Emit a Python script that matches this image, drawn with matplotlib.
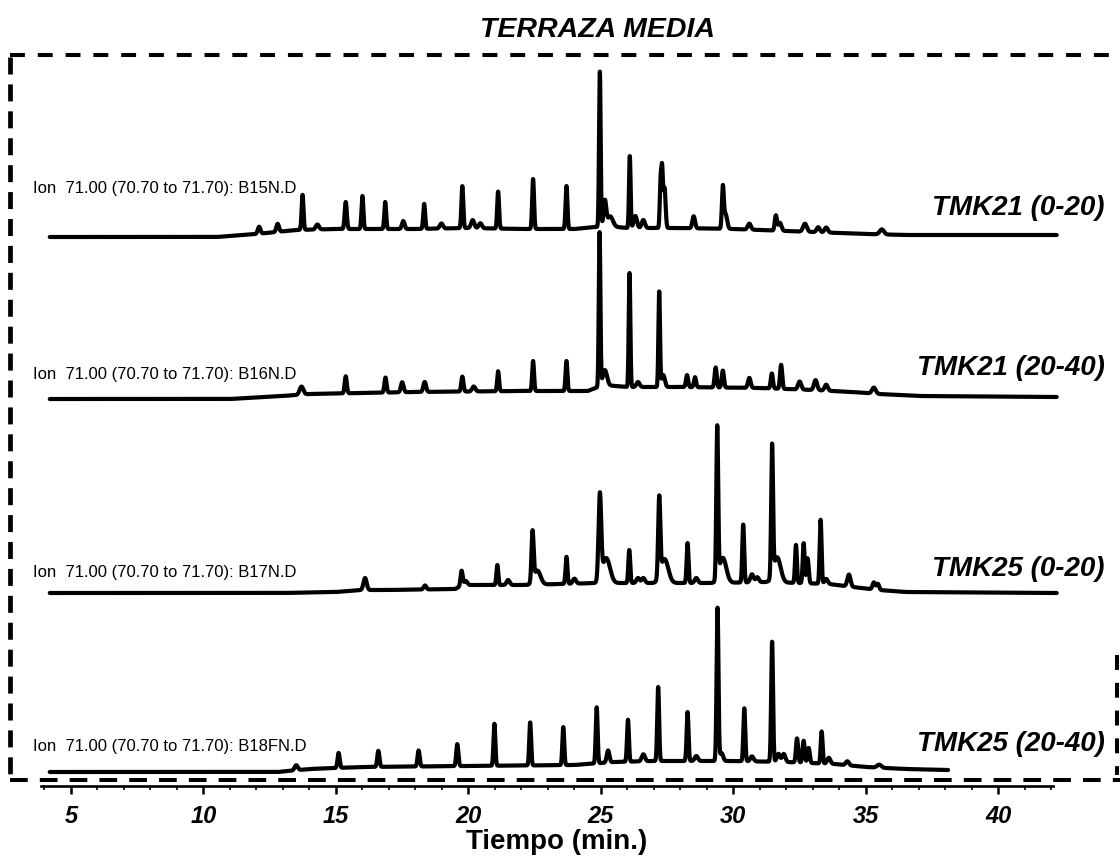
import numpy as np
import matplotlib
matplotlib.use("Agg")
import matplotlib.pyplot as plt
from matplotlib.lines import Line2D

# ---------------- data ----------------
title = "TERRAZA MEDIA"
xlabel = "Tiempo (min.)"
xticks = [5, 10, 15, 20, 25, 30, 35, 40]

sample_names = ["TMK21 (0-20)", "TMK21 (20-40)", "TMK25 (0-20)", "TMK25 (20-40)"]
file_labels = ["Ion  71.00 (70.70 to 71.70): B15N.D",
               "Ion  71.00 (70.70 to 71.70): B16N.D",
               "Ion  71.00 (70.70 to 71.70): B17N.D",
               "Ion  71.00 (70.70 to 71.70): B18FN.D"]
run_start = [4.2, 4.2, 4.2, 4.2]
run_end = [42.2, 42.2, 42.2, 38.1]

# baseline drift knots (time, abundance)
base1_t = [4.2, 10.5, 12.0, 13.5, 15.0, 18.0, 20.0, 22.0, 24.0, 25.2, 26.0, 28.0, 30.0, 31.0, 33.0, 35.0, 36.5, 42.2]
base1_v = [0, 0, 3, 7, 8, 8, 9, 8, 8, 11, 9, 9, 8, 7, 5, 3, 2, 2]
base2_t = [4.2, 11.0, 13.0, 14.0, 18.0, 22.0, 24.5, 25.1, 26.0, 28.0, 31.0, 33.0, 34.5, 35.5, 37.0, 42.2]
base2_v = [0, 0, 3, 5, 7, 8, 8, 14, 12, 12, 11, 9, 7, 5, 3, 2]
base3_t = [4.2, 13.0, 15.0, 16.0, 17.0, 19.5, 19.8, 22.0, 24.9, 26.0, 29.3, 31.3, 33.6, 34.5, 35.5, 36.5, 42.2]
base3_v = [0, 0, 1, 3, 3, 4, 8, 8, 10, 10, 10, 11, 9, 6, 3, 1, 0]
base4_t = [4.2, 12.8, 14.0, 16.0, 20.0, 24.0, 25.5, 27.0, 30.0, 32.0, 33.8, 35.0, 36.5, 38.1]
base4_v = [0, 0, 3, 5, 6, 7, 10, 11, 11, 10, 8, 5, 3, 2]

# peaks: retention time (min), height (abundance), width (min)
peaks1_t = [12.1, 12.8, 13.74, 14.3, 15.37, 16.0, 16.86, 17.54, 18.33, 18.98, 19.77, 20.16, 20.45, 21.12,
            22.44, 23.7, 24.96, 25.15, 25.35, 26.09, 26.3, 26.6, 27.25, 27.31, 27.4, 28.5, 29.6, 29.7,
            30.6, 31.6, 31.75, 32.7, 33.2, 33.5, 35.6]
peaks1_h = [7, 8, 35, 5, 27, 33, 27, 8, 25, 5, 42, 8, 5, 37,
            50, 43, 155, 25, 10, 72, 12, 8, 45, 55, 40, 12, 40, 15,
            6, 15, 8, 8, 5, 5, 5]
peaks1_w = [0.05, 0.05, 0.035, 0.06, 0.04, 0.035, 0.035, 0.05, 0.035, 0.06, 0.035, 0.06, 0.06, 0.035,
            0.035, 0.035, 0.03, 0.05, 0.1, 0.03, 0.06, 0.06, 0.03, 0.03, 0.04, 0.05, 0.035, 0.06,
            0.06, 0.04, 0.06, 0.07, 0.06, 0.06, 0.08]

peaks2_t = [13.7, 15.37, 16.87, 17.5, 18.35, 19.77, 20.2, 21.12, 22.44, 23.7, 24.95, 25.15, 26.08, 26.4,
            27.2, 27.35, 28.25, 28.55, 29.33, 29.6, 30.6, 31.45, 31.8, 32.5, 33.1, 33.5, 35.3]
peaks2_h = [8, 17, 15, 10, 10, 15, 5, 20, 30, 30, 154, 15, 114, 5,
            95, 12, 12, 10, 20, 17, 10, 15, 24, 8, 10, 6, 6]
peaks2_w = [0.07, 0.04, 0.04, 0.05, 0.05, 0.04, 0.06, 0.035, 0.035, 0.035, 0.03, 0.08, 0.03, 0.06,
            0.03, 0.06, 0.04, 0.04, 0.04, 0.04, 0.05, 0.04, 0.04, 0.06, 0.06, 0.06, 0.07]

peaks3_t = [16.1, 18.36, 19.74, 19.9, 21.09, 21.5, 22.42, 22.6, 23.7, 24.0, 24.96, 25.2, 26.07, 26.4, 26.6,
            27.2, 27.4, 28.27, 28.6, 29.39, 29.6, 30.37, 30.7, 30.9, 31.46, 31.65, 32.36, 32.65, 32.8,
            33.29, 33.5, 34.36, 35.3, 35.45]
peaks3_h = [12, 4, 15, 4, 20, 5, 50, 14, 27, 5, 85, 25, 33, 5, 5,
            79, 24, 40, 5, 151, 25, 58, 8, 5, 130, 25, 38, 40, 25,
            64, 5, 12, 7, 6]
peaks3_w = [0.06, 0.05, 0.04, 0.06, 0.035, 0.06, 0.04, 0.12, 0.035, 0.06, 0.05, 0.14, 0.035, 0.06, 0.06,
            0.04, 0.14, 0.035, 0.06, 0.035, 0.13, 0.035, 0.06, 0.06, 0.035, 0.13, 0.035, 0.035, 0.04,
            0.035, 0.06, 0.06, 0.05, 0.05]

peaks4_t = [13.5, 15.1, 16.6, 18.12, 19.58, 20.98, 22.33, 23.58, 24.84, 25.27, 26.02, 26.6, 27.16, 28.27,
            28.6, 29.4, 29.55, 30.41, 30.7, 31.46, 31.7, 31.9, 32.4, 32.65, 32.84, 33.33, 33.6, 34.3, 35.5]
peaks4_h = [5, 15, 16, 16, 22, 42, 43, 38, 56, 12, 42, 7, 74, 49,
            5, 153, 8, 53, 5, 120, 8, 8, 24, 22, 15, 32, 6, 4, 3]
peaks4_w = [0.06, 0.04, 0.04, 0.04, 0.04, 0.035, 0.035, 0.035, 0.035, 0.05, 0.035, 0.06, 0.035, 0.035,
            0.06, 0.035, 0.06, 0.035, 0.06, 0.035, 0.06, 0.06, 0.04, 0.04, 0.04, 0.035, 0.06, 0.06, 0.08]

bases = [(base1_t, base1_v), (base2_t, base2_v), (base3_t, base3_v), (base4_t, base4_v)]
peaks = [(peaks1_t, peaks1_h, peaks1_w), (peaks2_t, peaks2_h, peaks2_w),
         (peaks3_t, peaks3_h, peaks3_w), (peaks4_t, peaks4_h, peaks4_w)]

# ---------------- layout ----------------
W, H = 1120, 858
DPI = 100
FONT = "Liberation Sans"
trace_offsets = [549, 387, 193, 14]        # vertical stacking offsets (abundance units)
file_label_y = [188, 375, 573, 747]        # px from top
name_label_y = [208, 368, 569, 744]        # px from top

fig = plt.figure(figsize=(W / DPI, H / DPI), dpi=DPI)
fig.patch.set_facecolor("white")

def fx(px):
    return px / W

def fy(py):
    return 1 - py / H

ax_left, ax_right, ax_bottom, ax_top = 41, 1053, 786, 57
ax = fig.add_axes([fx(ax_left), fy(ax_bottom), fx(ax_right - ax_left), (ax_bottom - ax_top) / H])
ax.set_xlim(3.87, 42.06)
ax.set_ylim(0, ax_bottom - ax_top)
ax.patch.set_alpha(0)

for i in range(4):
    t = np.arange(run_start[i], run_end[i] + 1e-9, 0.004)
    bt, bv = bases[i]
    y = np.interp(t, bt, bv).astype(float)
    pt, ph, pw = peaks[i]
    for c, h, w in zip(pt, ph, pw):
        y += h * np.exp(-0.5 * ((t - c) / w) ** 2)
    ax.plot(t, y + trace_offsets[i], color="black", lw=3.0, solid_joinstyle="round",
            solid_capstyle="round", clip_on=False)

for s in ["left", "right", "top"]:
    ax.spines[s].set_visible(False)
ax.spines["bottom"].set_linewidth(1.9)
ax.set_yticks([])
ax.set_xticks(xticks)
ax.set_xticks(np.arange(4, 43, 1), minor=True)
ax.tick_params(axis="x", which="major", length=6, width=1.8, direction="out", pad=8)
ax.tick_params(axis="x", which="minor", length=3, width=1.2, direction="out")
ax.set_xticklabels([str(v) for v in xticks], fontfamily=FONT, fontweight="bold",
                   fontstyle="italic", fontsize=17)

# texts
fig.text(fx(598), fy(30), title, ha="center", va="center", fontfamily=FONT,
         fontweight="bold", fontstyle="italic", fontsize=20.5)
fig.text(fx(557), fy(842), xlabel, ha="center", va="center", fontfamily=FONT,
         fontweight="bold", fontsize=20)
for i in range(4):
    fig.text(fx(33), fy(file_label_y[i]), file_labels[i], ha="left", va="center",
             fontfamily=FONT, fontsize=12)
    fig.text(fx(1105), fy(name_label_y[i]), sample_names[i], ha="right", va="center",
             fontfamily=FONT, fontweight="bold", fontstyle="italic", fontsize=20)

# dashed frame
dash_kw = dict(color="black", lw=2.9, linestyle=(0, (3.7, 3.2)), solid_capstyle="butt",
               transform=fig.transFigure)
fig.add_artist(Line2D([fx(10), fx(1125)], [fy(55), fy(55)], **dash_kw))
bot_kw = dict(dash_kw)
bot_kw["linestyle"] = (0, (4.4, 3.0))
fig.add_artist(Line2D([fx(10), fx(1125)], [fy(780), fy(780)], **bot_kw))
left_kw = dict(dash_kw)
left_kw["lw"] = 3.4
left_kw["linestyle"] = (0, (3.6, 2.1))
fig.add_artist(Line2D([fx(10), fx(10)], [fy(57), fy(780)], **left_kw))
fig.add_artist(Line2D([fx(1117), fx(1117)], [fy(655), fy(775)], **dash_kw))

fig.savefig("out.png", dpi=DPI, facecolor="white")
